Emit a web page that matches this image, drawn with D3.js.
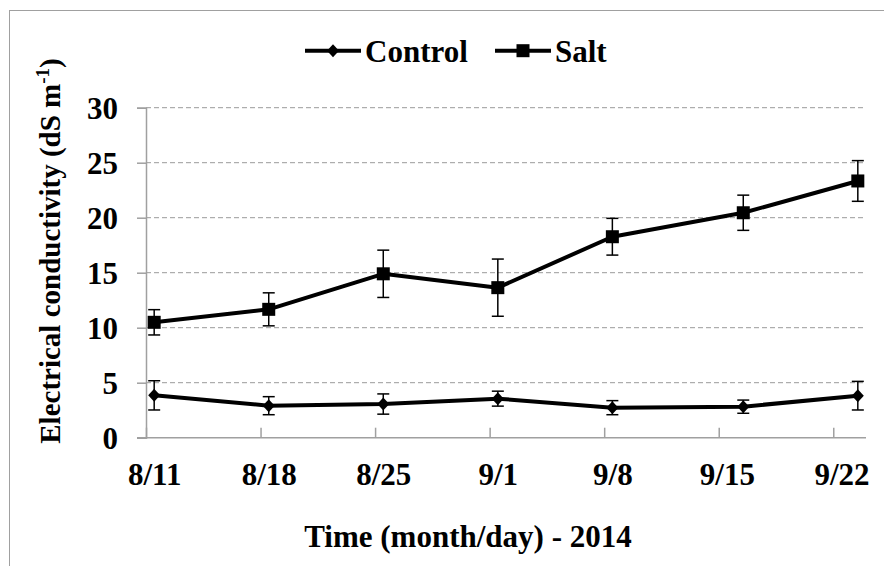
<!DOCTYPE html>
<html>
<head>
<meta charset="utf-8">
<script src="https://cdn.jsdelivr.net/npm/d3@7"></script>
<style>
  body { margin: 0; background: #fff; }
</style>
</head>
<body>
<div id="chart"></div>
<script>
// sampling dates (plotted at the middle of the day, like an Excel date axis)
const sampleDates = ['2014-08-11', '2014-08-18', '2014-08-25', '2014-09-01', '2014-09-08', '2014-09-16', '2014-09-23']
const tickDates = ['2014-08-11', '2014-08-18', '2014-08-25', '2014-09-01', '2014-09-08', '2014-09-15', '2014-09-22']
const tickLabels = ['8/11', '8/18', '8/25', '9/1', '9/8', '9/15', '9/22']
const yTicks = [0, 5, 10, 15, 20, 25, 30]

const controlValues = [3.85, 2.91, 3.06, 3.55, 2.73, 2.82, 3.82]
const controlErrors = [1.33, 0.82, 0.92, 0.68, 0.64, 0.6, 1.3]
const saltValues = [10.49, 11.67, 14.9, 13.64, 18.27, 20.45, 23.34]
const saltErrors = [1.15, 1.5, 2.15, 2.6, 1.67, 1.6, 1.85]

const FONT = "'Liberation Serif', 'Times New Roman', Times, serif"
const parse = d3.utcParse('%Y-%m-%d')
const HALF_DAY = 12 * 3600 * 1000

const W = 884
const H = 566
const margin = { top: 107.7, right: 18, bottom: 128.3, left: 146 }

const svg = d3.select('#chart').append('svg')
  .attr('width', W)
  .attr('height', H)

const styleText = (sel, size) => sel
  .style('font-family', FONT)
  .style('font-weight', 'bold')
  .style('font-size', size + 'px')
  .attr('fill', '#000')

// outer chart border (only top and left are inside the picture)
svg.append('rect')
  .attr('x', 9.5)
  .attr('y', 10.5)
  .attr('width', 1000)
  .attr('height', 1000)
  .attr('fill', 'none')
  .attr('stroke', '#a0a0a0')
  .attr('stroke-width', 1)

const xScale = d3.scaleUtc()
  .domain([parse('2014-08-11'), parse('2014-09-24')])
  .range([margin.left, W - margin.right])

const yScale = d3.scaleLinear()
  .domain([0, 30])
  .range([H - margin.bottom, margin.top])

const xp = (d) => xScale(new Date(parse(d).getTime() + HALF_DAY))

// gridlines
svg.append('g')
  .selectAll('line')
  .data(yTicks.slice(1))
  .enter().append('line')
  .attr('x1', margin.left)
  .attr('x2', W - margin.right)
  .attr('y1', d => yScale(d))
  .attr('y2', d => yScale(d))
  .attr('stroke', '#9a9a9a')
  .attr('stroke-width', 1)
  .attr('stroke-dasharray', '5,3')

// y axis
const yAxis = svg.append('g')
  .attr('transform', 'translate(' + margin.left + ',0)')
  .call(d3.axisLeft(yScale).tickValues(yTicks).tickSize(9).tickPadding(19))
yAxis.select('.domain').attr('stroke', '#a0a0a0').attr('stroke-width', 1.5)
yAxis.selectAll('.tick line').attr('stroke', '#a0a0a0').attr('stroke-width', 1.5)
styleText(yAxis.selectAll('.tick text'), 31)
  .attr('dy', '0.34em')

// x axis (ticks point up into the plot, labels centred on the day)
const halfDayPx = xScale(new Date(parse('2014-08-11').getTime() + HALF_DAY)) - xScale(parse('2014-08-11'))
const xAxis = svg.append('g')
  .attr('transform', 'translate(0,' + yScale(0) + ')')
  .call(d3.axisBottom(xScale)
    .tickValues(tickDates.map(parse))
    .tickFormat((d, i) => tickLabels[i])
    .tickSizeInner(-10)
    .tickSizeOuter(0))
xAxis.select('.domain')
  .attr('d', 'M' + (margin.left - 9) + ',0H' + (W - margin.right))
  .attr('stroke', '#a0a0a0').attr('stroke-width', 1.5)
xAxis.selectAll('.tick line').attr('stroke', '#a0a0a0').attr('stroke-width', 1.5)
styleText(xAxis.selectAll('.tick text'), 31)
  .attr('x', halfDayPx)
  .attr('y', 47)
  .attr('dy', 0)

const line = d3.line()
  .x(d => xp(d.date))
  .y(d => yScale(d.value))

const toSeries = (values, errors) => sampleDates.map((date, i) => ({ date, value: values[i], err: errors[i] }))
const control = toSeries(controlValues, controlErrors)
const salt = toSeries(saltValues, saltErrors)

const drawErrors = (data) => {
  const g = svg.append('g').attr('stroke', '#000').attr('stroke-width', 1.5)
  data.forEach(d => {
    const x = xp(d.date)
    const y1 = yScale(d.value + d.err)
    const y0 = yScale(d.value - d.err)
    g.append('line').attr('x1', x).attr('x2', x).attr('y1', y1).attr('y2', y0)
    g.append('line').attr('x1', x - 6).attr('x2', x + 6).attr('y1', y1).attr('y2', y1)
    g.append('line').attr('x1', x - 6).attr('x2', x + 6).attr('y1', y0).attr('y2', y0)
  })
}

drawErrors(control)
drawErrors(salt)

const appendLine = (data) => {
  svg.append('path')
    .datum(data)
    .attr('fill', 'none')
    .attr('stroke', '#000')
    .attr('stroke-width', 4)
    .attr('stroke-linejoin', 'round')
    .attr('d', line)
}

appendLine(control)
appendLine(salt)

const diamond = 'M0,-6.5L6,0L0,6.5L-6,0Z'

svg.append('g')
  .selectAll('path')
  .data(control)
  .enter().append('path')
  .attr('d', diamond)
  .attr('transform', d => 'translate(' + xp(d.date) + ',' + yScale(d.value) + ')')
  .attr('fill', '#000')

svg.append('g')
  .selectAll('rect')
  .data(salt)
  .enter().append('rect')
  .attr('x', d => xp(d.date) - 6.5)
  .attr('y', d => yScale(d.value) - 6.5)
  .attr('width', 13)
  .attr('height', 13)
  .attr('fill', '#000')

// legend
const legend = svg.append('g')
const legendItems = [
  { label: 'Control', x: 305, shape: 'diamond' },
  { label: 'Salt', x: 495, shape: 'square' }
]
legendItems.forEach(item => {
  legend.append('line')
    .attr('x1', item.x).attr('x2', item.x + 56)
    .attr('y1', 50.7).attr('y2', 50.7)
    .attr('stroke', '#000').attr('stroke-width', 4)
  if (item.shape === 'diamond') {
    legend.append('path').attr('d', diamond)
      .attr('transform', 'translate(' + (item.x + 28) + ',50.7)')
      .attr('fill', '#000')
  } else {
    legend.append('rect')
      .attr('x', item.x + 28 - 6.5).attr('y', 50.7 - 6.5)
      .attr('width', 13).attr('height', 13)
      .attr('fill', '#000')
  }
  styleText(legend.append('text'), 31)
    .attr('x', item.x + 60)
    .attr('y', 62)
    .text(item.label)
})

// axis titles
styleText(svg.append('text'), 31)
  .attr('x', 468)
  .attr('y', 547)
  .attr('text-anchor', 'middle')
  .text('Time (month/day) - 2014')

const yTitle = styleText(svg.append('text'), 29)
  .attr('transform', 'translate(60,251) rotate(-90)')
  .attr('text-anchor', 'middle')
yTitle.append('tspan').text('Electrical conductivity (dS m')
yTitle.append('tspan').attr('dy', -11).style('font-size', '19px').text('-1')
yTitle.append('tspan').attr('dy', 11).text(')')
</script>
</body>
</html>
